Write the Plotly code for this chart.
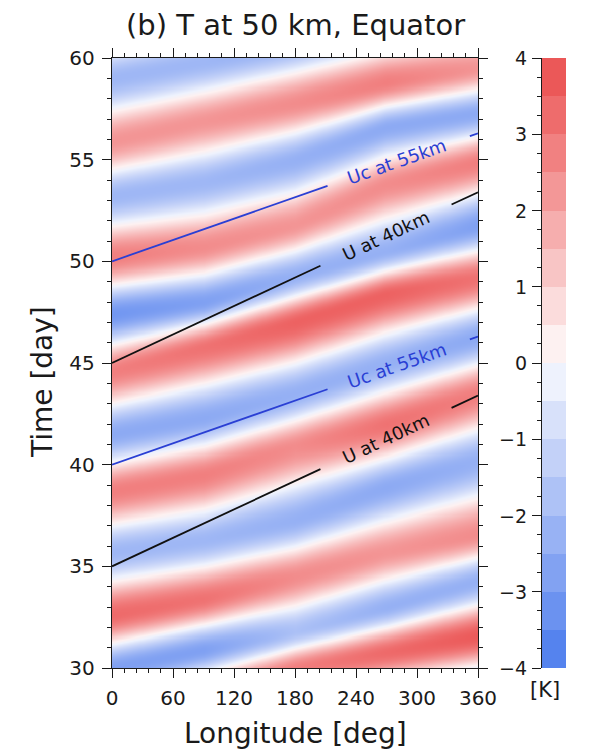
import numpy as np
import plotly.graph_objects as go

# ---------------------------------------------------------------------------
# Temperature anomaly at 50 km over the equator (longitude-time section)
# Warm crests / cold troughs traced as lines: day at each longitude node
# and the anomaly [K] carried along that line.
# ---------------------------------------------------------------------------
lon_nodes = [0, 90, 180, 270, 360]

ridge_days = [
    [24.5, 25.8, 27.2, 28.3, 29.0],   # cold
    [27.3, 28.8, 30.0, 30.8, 31.6],   # warm
    [30.0, 30.9, 31.8, 33.0, 34.3],   # cold
    [32.6, 33.4, 34.5, 35.7, 36.6],   # warm
    [35.7, 36.3, 37.3, 38.9, 40.2],   # cold
    [38.7, 39.5, 40.9, 42.0, 43.5],   # warm
    [41.5, 42.3, 43.5, 45.0, 46.3],   # cold
    [44.6, 45.8, 47.0, 48.4, 49.2],   # warm
    [47.4, 48.0, 49.3, 50.5, 51.8],   # cold
    [50.2, 50.7, 51.8, 53.8, 54.9],   # warm
    [53.2, 53.9, 55.0, 56.6, 57.3],   # cold
    [55.9, 56.9, 57.8, 58.8, 59.5],   # warm
    [59.0, 59.8, 60.8, 61.8, 62.5],   # cold
    [61.8, 62.8, 63.8, 64.8, 65.5],   # warm
]
ridge_amps = [
    [-2.3, -2.3, -2.3, -2.3, -2.3],
    [2.3, 2.3, 2.8, 3.3, 3.7],
    [-2.8, -2.8, -1.8, -2.3, -2.3],
    [3.3, 3.1, 2.5, 2.3, 2.5],
    [-2.1, -2.1, -2.3, -2.5, -2.3],
    [2.8, 2.8, 2.5, 3.1, 2.8],
    [-2.5, -2.5, -2.3, -2.3, -2.5],
    [2.8, 3.1, 3.5, 3.5, 3.1],
    [-3.1, -2.8, -2.3, -2.3, -2.8],
    [2.8, 2.5, 2.3, 2.5, 2.8],
    [-2.1, -2.1, -2.3, -2.5, -2.5],
    [2.3, 2.3, 2.5, 2.8, 2.3],
    [-2.1, -2.1, -2.3, -2.3, -2.3],
    [2.3, 2.3, 2.3, 2.3, 2.3],
]

# Reference phase lines: starting day at 0 deg, and days taken to cross 360 deg
u40_start = [35, 45]
u40_rise = 8.4
u40_gap = [205, 334]
uc55_start = [40, 50]
uc55_rise = 6.3
uc55_gap = [212, 352]

# Shading levels [K] and their colours (from -4 up to +4)
level_edges = np.arange(-4.0, 4.01, 0.5)
band_colors = [
    "#5583ee", "#6b92f0", "#82a2f2", "#98b2f4",
    "#aec2f6", "#c3d1f8", "#d8e1fa", "#eef2fd",
    "#fdf1f1", "#fbdcdc", "#f8c5c5", "#f6aeae",
    "#f39797", "#f18181", "#ee6c6c", "#eb5858",
]

tick_lon = [0, 60, 120, 180, 240, 300, 360]
tick_day = [30, 35, 40, 45, 50, 55, 60]
tick_k = [-4, -3, -2, -1, 0, 1, 2, 3, 4]

# ---------------------------------------------------------------------------
# Build the gridded field from the traced crests and troughs
# ---------------------------------------------------------------------------
lon = np.arange(0, 361, 2.0)
day = np.arange(30, 60.001, 0.05)
rd = np.array(ridge_days)
ra = np.array(ridge_amps)
field = np.zeros((day.size, lon.size))
for j, lo in enumerate(lon):
    d = np.array([np.interp(lo, lon_nodes, r) for r in rd])
    a = np.array([np.interp(lo, lon_nodes, r) for r in ra])
    k = np.clip(np.searchsorted(d, day) - 1, 0, len(d) - 2)
    s = np.clip((day - d[k]) / (d[k + 1] - d[k]), 0, 1)
    w = 0.5 * (1 - np.cos(np.pi * s))
    field[:, j] = a[k] + (a[k + 1] - a[k]) * w

nb = len(band_colors)
band_mid = (level_edges[:-1] + level_edges[1:]) / 2

# smooth shading: colours pinned at each band's mid value
smooth_scale = [[0.0, band_colors[0]]]
for k, c in enumerate(band_colors):
    smooth_scale.append([(k + 0.5) / nb, c])
smooth_scale.append([1.0, band_colors[-1]])

# label bar: one flat step per band
bar_scale = []
for k, c in enumerate(band_colors):
    bar_scale.append([k / nb, c])
    bar_scale.append([(k + 1) / nb, c])

# ---------------------------------------------------------------------------
W, H = 602, 752
px0, px1 = 112, 478
py_top, py_bot = 58, 668
cb0, cb1 = 541, 566
xdom = [px0 / W, px1 / W]
ydom = [(H - py_bot) / H, (H - py_top) / H]

FONT = "DejaVu Sans"
INK = "#1a1a1a"

fig = go.Figure()
fig.add_trace(go.Heatmap(
    x=lon, y=day, z=field, zsmooth="best",
    colorscale=smooth_scale, zmin=-4, zmax=4,
    showscale=False, hoverinfo="skip",
    xaxis="x", yaxis="y",
))

def phase_line(start, rise, gap, color):
    xs = [0, gap[0], None, gap[1], 360]
    ys = [None if x is None else start + rise * x / 360 for x in xs]
    fig.add_trace(go.Scatter(x=xs, y=ys, mode="lines",
                             line=dict(color=color, width=1.8),
                             showlegend=False, hoverinfo="skip",
                             xaxis="x", yaxis="y"))

BLUE = "#2a3fd4"
BLACK = "#111111"
for s in u40_start:
    phase_line(s, u40_rise, u40_gap, BLACK)
for s in uc55_start:
    phase_line(s, uc55_rise, uc55_gap, BLUE)

px_per_day = (py_bot - py_top) / 30.0
ang_u40 = np.degrees(np.arctan(u40_rise * px_per_day / (px1 - px0)))
ang_uc55 = np.degrees(np.arctan(uc55_rise * px_per_day / (px1 - px0)))

annotations = []
for s in u40_start:
    lx = (u40_gap[0] + u40_gap[1]) / 2
    annotations.append(dict(x=lx, y=s + u40_rise * lx / 360, xref="x", yref="y",
                            text="U at 40km", showarrow=False, textangle=-ang_u40,
                            font=dict(family=FONT, size=18, color=BLACK)))
for s in uc55_start:
    lx = (uc55_gap[0] + uc55_gap[1]) / 2 - 2
    annotations.append(dict(x=lx, y=s + uc55_rise * lx / 360, xref="x", yref="y",
                            text="Uc at 55km", showarrow=False, textangle=-ang_uc55,
                            font=dict(family=FONT, size=18, color=BLUE)))

# label bar: a single column spanning [0, 1] on its own axes
fig.add_trace(go.Heatmap(
    x=[0.0, 1.0], y=level_edges, z=[[v] for v in band_mid],
    colorscale=bar_scale, zmin=-4, zmax=4, showscale=False, hoverinfo="skip",
    xaxis="x2", yaxis="y2",
))

# label-bar numbers, right-aligned just left of its ticks
for v in tick_k:
    annotations.append(dict(x=(cb0 - 12) / W, y=v, xref="paper", yref="y2",
                            text=f"{v}".replace("-", "\u2212"), showarrow=False,
                            xanchor="right", yanchor="middle",
                            font=dict(family=FONT, size=19, color=INK)))

def paper_text(text, xpx, ypx, size, angle=0):
    annotations.append(dict(x=xpx / W, y=1 - ypx / H, xref="paper", yref="paper",
                            text=text, showarrow=False, textangle=angle,
                            xanchor="center", yanchor="middle",
                            font=dict(family=FONT, size=size, color=INK)))

paper_text("(b) T at 50 km, Equator", (px0 + px1) / 2, 25, 29)
paper_text("Longitude [deg]", (px0 + px1) / 2, 733, 28)
paper_text("Time [day]", 42, 382, 28, -90)
paper_text("[K]", 545, 690, 21)

axis_common = dict(showline=True, linecolor=INK, linewidth=1.4, mirror="allticks",
                   ticks="outside", ticklen=9, tickwidth=1.3, tickcolor=INK,
                   showgrid=False, zeroline=False, automargin=False,
                   ticklabelstandoff=3,
                   tickfont=dict(family=FONT, size=20, color=INK))

fig.update_layout(
    width=W, height=H,
    margin=dict(l=0, r=0, t=0, b=0, autoexpand=False),
    paper_bgcolor="white", plot_bgcolor="white",
    showlegend=False,
    annotations=annotations,
    xaxis=dict(domain=xdom, range=[0, 360], tickvals=tick_lon,
               minor=dict(dtick=12, ticklen=4, tickcolor=INK, ticks="outside"),
               anchor="y", **axis_common),
    yaxis=dict(domain=ydom, range=[30, 60], tickvals=tick_day,
               minor=dict(dtick=1, ticklen=4, tickcolor=INK, ticks="outside"),
               anchor="x", **axis_common),
    xaxis2=dict(domain=[cb0 / W, cb1 / W], range=[0, 1],
                showline=False, showticklabels=False, ticks="",
                showgrid=False, zeroline=False,
                fixedrange=True, anchor="y2", automargin=False),
    yaxis2=dict(domain=ydom, range=[-4, 4], tickvals=tick_k, side="left",
                anchor="free", position=cb0 / W, showticklabels=False,
                showline=True, linecolor=INK, linewidth=1.4,
                ticks="outside", ticklen=9, tickwidth=1.3, tickcolor=INK,
                minor=dict(dtick=0.25, ticklen=4, tickcolor=INK, ticks="outside"),
                showgrid=False, zeroline=False, automargin=False),
)

fig.write_html("out.html")
